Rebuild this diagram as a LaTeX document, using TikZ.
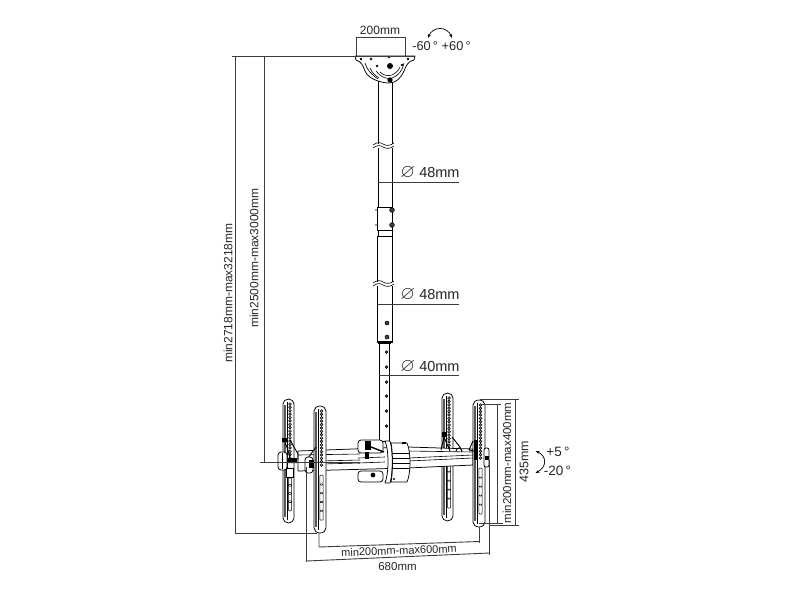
\documentclass[tikz,border=0pt]{standalone}
\usepackage{amssymb}
\usepackage{fontspec}
\setmainfont{Liberation Sans}
\usetikzlibrary{arrows.meta}
\definecolor{dimgray}{HTML}{3C3C3C}
\tikzset{
  part/.style={draw=black,line width=0.75pt,fill=white,line join=round},
  dimline/.style={draw=dimgray,line width=0.9pt},
  dimtext/.style={inner sep=0pt,text=black!85,font=\fontsize{12}{12}\selectfont},
  bigtext/.style={dimtext,font=\fontsize{14.5}{14.5}\selectfont},
  tilttext/.style={dimtext,font=\fontsize{13.5}{13.5}\selectfont},
  hole/.style={draw=black,line width=0.5pt,fill=black!75},
  hook/.style={draw=black,line width=0.9pt,line join=round},
  turn/.style={draw=black,line width=0.7pt,{Stealth[length=4pt,width=3pt]}-{Stealth[length=4pt,width=3pt]}},
}
% left edge, right edge, top, bottom, end of the round holes
\newcommand{\bracketpanel}[5]{
  \draw[part] (#1,#3+5) arc[start angle=180,end angle=360,x radius=(#2-#1)/2,y radius=5] -- (#2,#4-5)
    arc[start angle=0,end angle=180,x radius=(#2-#1)/2,y radius=5] -- cycle;
  \draw[line width=2.4pt,black!65] (#1+2,#3+6) -- (#1+2,#4-6);
  \draw[line width=0.5pt] (#1+4,#3+3) -- (#1+4,#4-3);
  \foreach \n in {0,...,16}
    \draw[line width=0.5pt,fill=black!40] ({(#1+#2)/2+1.5},{#3+5+(#5-#3-5)*\n/16}) circle[radius=1.4];
  \foreach \n in {0,...,4}
    \draw[line width=0.5pt,rounded corners=1pt] ({(#1+#2)/2+1.5},{#5+15+(#4-#5-24)*\n/5}) +(-1.7,-5) rectangle +(1.7,5);
}
\begin{document}
\begin{tikzpicture}[x=1pt,y=-1pt]
  \useasboundingbox (0,0) rectangle (800,600);
  \fill[white] (0,0) rectangle (800,600);

  \coordinate (plateleft) at (356,56);
  \coordinate (plateright) at (405,56);
  \coordinate (outerend) at (235,533);
  \coordinate (innerend) at (264,462);

  % pole
  \draw[part] (378,80) -- (378,236) -- (392,236) -- (392,80) -- cycle;
  \draw[part] (377,236) -- (377,342) -- (392,342) -- (392,236) -- cycle;
  \draw[part] (379,342) -- (379,441) -- (389,441) -- (389,342) -- cycle;
  \draw[part] (377,207) rectangle (392,230);
  \draw[line width=0.9pt] (377,230) -- (392,230) (377,236) -- (392,236);
  \fill[black!75] (376,210) circle[radius=0.9] (376,225) circle[radius=0.9];
  \draw[hole] (392,210) circle[radius=2.4] (392,225) circle[radius=2.4];
  \draw[hole] (387,323) circle[radius=2] (387,337) circle[radius=2];
  \draw[line width=1.5pt] (377,341.5) -- (392,341.5);
  \draw[line width=0.5pt] (378,343.5) -- (391,343.5);
  \foreach \hy in {352,367,382,396,411,426}
    \draw[hole] (386.5,\hy) circle[radius=1.4];
  \foreach \by in {146,284}{
    \fill[white] (374,\by-2) rectangle (394,\by+2);
    \draw[line width=0.6pt] (373,\by-1) .. controls (377,\by-4) and (380,\by-4) .. (383,\by-2)
      .. controls (386,\by) and (390,\by) .. (394,\by-3);
    \draw[line width=0.6pt] (373,\by+2) .. controls (377,\by-1) and (380,\by-1) .. (383,\by+1)
      .. controls (386,\by+3) and (390,\by+3) .. (394,\by);
  }

  % ceiling plate
  \draw[part] (355,56) -- (415,56) -- (414,60) .. controls (408,61) and (406,66) .. (404,71)
    .. controls (401,78) and (396,83) .. (389,83) .. controls (385,83) and (381,82) .. (378,81)
    .. controls (372,79) and (367,76) .. (365,71) .. controls (363,66) and (362,62) .. (356,60) -- cycle;
  \draw[line width=0.6pt] (365,63) .. controls (367,70) and (371,74) .. (378,79);
  \draw[line width=0.6pt] (370,68) .. controls (372,73) and (376,76) .. (379,78);
  \draw[line width=0.6pt] (376,71) .. controls (380,77) and (388,80) .. (392,78) .. controls (398,76) and (403,70) .. (404,63);
  \draw[line width=0.6pt] (380,72) .. controls (384,76) and (388,76) .. (392,75) .. controls (396,73) and (399,70) .. (400,67);
  \fill (390,66) circle[radius=3];
  \fill (390,80) circle[radius=2.6];
  \foreach \hx/\hy in {361/59,371/59,389/57,408/59,377/66,402/65}
    \draw[hole,fill=black!60] (\hx,\hy) circle[radius=1];

  % panels
  \bracketpanel{283}{294}{399}{523}{458}
  \bracketpanel{442}{453}{393}{521}{452}

  % cross bar
  \draw[part] (298,451) -- (408,447) -- (473,449) -- (473,465) -- (408,468) -- (298,471) -- cycle;
  \draw[line width=0.6pt] (298,455) -- (360,454) (408,451) -- (473,452);
  \draw[line width=0.6pt] (320,461) -- (360,460) (408,458) -- (473,455);
  \draw[line width=0.6pt] (320,464) -- (360,463) (408,461) -- (473,458);

  \bracketpanel{314}{326}{406}{533}{465}
  \bracketpanel{473}{485}{400}{527}{458}

  % centre housing
  \draw[part,rounded corners=3pt] (358,440) rectangle (383,453);
  \draw[part,rounded corners=3pt] (358,471) rectangle (383,482);
  \fill (365,441) rectangle (371,450);
  \fill (365,452) rectangle (369,459);
  \draw[line width=1.4pt] (371,447) -- (384,452);
  \fill (373,475) circle[radius=2.4];
  \draw[line width=0.6pt] (358,458) -- (385,457) (358,463) -- (385,462);
  \draw[part] (385,441) .. controls (389,450) and (389,473) .. (385,483) -- (390,483)
    .. controls (393,473) and (393,450) .. (390,441) -- cycle;
  \draw[part] (391,443) -- (407,443) .. controls (411,452) and (411,473) .. (407,482) -- (391,482)
    .. controls (393,473) and (393,452) .. (391,443) -- cycle;
  \draw[line width=0.6pt] (392,453) -- (409,453) (392,458) -- (410,458) (392,463) -- (410,463) (392,468) -- (409,468);
  \fill (394,479) circle[radius=1.1];
  \fill (402,441.5) rectangle (406,444);

  % hooks and knobs
  \draw[hook] (284,440) -- (288,450) -- (290,458) (290,440) -- (298,454) -- (298,460);
  \fill (282,438) rectangle (287,442) (287,458) rectangle (297,463);
  \draw[part,rounded corners=3pt] (278,452) rectangle (287,470);
  \draw[line width=0.5pt] (282,453) -- (282,469);
  \draw[part] (286,468) rectangle (293,477);
  \draw[hook] (316,447) -- (308,458);
  \draw[part,rounded corners=3pt] (305,457) rectangle (313,473);
  \fill (309,460) rectangle (314,468);
  \draw[hook] (444,437) -- (441,450) (444,437) -- (450,451) (452,437) -- (460,447) -- (462,452) (456,451) .. controls (457,447) and (461,447) .. (462,451);
  \fill (442,432) rectangle (446,437);
  \draw[hook] (473,441) -- (469,450) -- (474,451);
  \fill (474,440) rectangle (477,460);
  \draw[part,rounded corners=2pt] (484,448) rectangle (489,467);
  \fill (485,456) rectangle (489,460);

  % dimension lines
  \draw[dimline] (plateleft) |- (405,37) -- (plateright);
  \draw[dimline] (414,56) -- (232,56);
  \draw[dimline] (outerend |- plateleft) -- (outerend) -- (317,533);
  \draw[dimline] (innerend |- plateleft) -- (innerend) -- (260,462) (innerend) -- (360,462);
  \draw[dimline] (378,182) -- (459,182);
  \draw[dimline] (378,304) -- (459,304);
  \draw[dimline] (379,375.5) -- (459,375.5);
  \draw[dimline] (319,533) -- (319,547) -- (479,541.5);
  \draw[dimline] (479,527) -- (479,543);
  \draw[dimline] (306.5,467) -- (306.5,562);
  \draw[dimline] (306.5,561) -- (489,553);
  \draw[dimline] (489,460) -- (489,555);
  \draw[dimline] (482,404) -- (501,404);
  \draw[dimline] (497,404) -- (497,523);
  \draw[dimline] (479,523.5) -- (503,523.5);
  \draw[dimline] (480,399) -- (519,399);
  \draw[dimline] (515,399) -- (515,525);
  \draw[dimline] (489,525) -- (519,525);

  % tilt and swivel
  \draw[turn] (428,38) .. controls (433,26) and (447,26) .. (452,38);
  \draw[turn] (535.5,451) .. controls (547,456) and (547,467) .. (535.5,473);

  % labels
  \node[dimtext,font=\fontsize{12.8}{12.8}\selectfont] (swivel) at (441.5,46) {-60\,\textdegree\ +60\,\textdegree};
  \node[dimtext] (platewidth) at (380,30) {200mm};
  \node[bigtext] (dia48a) at (430,173) {{\fontsize{19}{19}\selectfont$\varnothing$} 48mm};
  \node[bigtext] (dia48b) at (430,295) {{\fontsize{19}{19}\selectfont$\varnothing$} 48mm};
  \node[bigtext] (dia40) at (430,367) {{\fontsize{19}{19}\selectfont$\varnothing$} 40mm};
  \node[dimtext,rotate=90] (outerheight) at (228,293) {min2718mm-max3218mm};
  \node[dimtext,rotate=90] (innerheight) at (254,258) {min2500mm-max3000mm};
  \node[dimtext,rotate=90,font=\fontsize{11.5}{11.5}\selectfont] (panelheight) at (507,463) {min200mm-max400mm};
  \node[dimtext,rotate=90,font=\fontsize{12.5}{12.5}\selectfont] (fullheight) at (524,462) {435mm};
  \node[tilttext] (tiltup) at (558,452) {+5\,\textdegree};
  \node[tilttext] (tiltdown) at (557.5,471) {-20\,\textdegree};
  \node[dimtext,rotate=2,font=\fontsize{11}{11}\selectfont] (panelgap) at (399,550.5) {min200mm-max600mm};
  \node[dimtext,font=\fontsize{11.5}{11.5}\selectfont] (fullwidth) at (397.5,567) {680mm};
\end{tikzpicture}
\end{document}
